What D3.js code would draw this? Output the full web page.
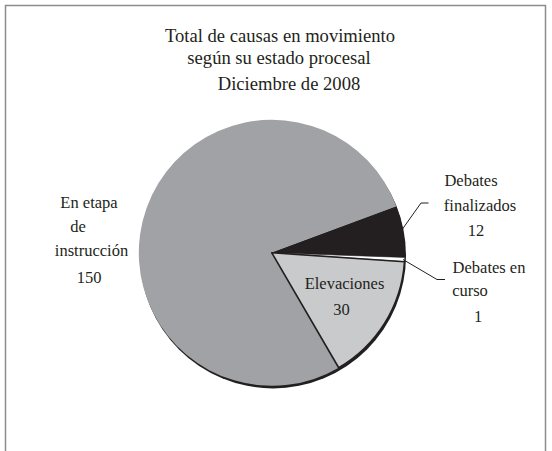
<!DOCTYPE html>
<html>
<head>
<meta charset="utf-8">
<script src="https://cdn.jsdelivr.net/npm/d3@7"></script>
<style>
  html, body { margin: 0; padding: 0; background: #fff; }
  svg { display: block; }
</style>
</head>
<body>
<svg id="chart" width="552" height="451"></svg>
<script>
// ---- data ----
const categories = ["En etapa de instrucción", "Debates finalizados", "Debates en curso", "Elevaciones"];
const values = [150, 12, 1, 30];
const colors = ["#a1a2a6", "#231f20", "#ffffff", "#c9cacc"];
const titleLines = ["Total de causas en movimiento", "según su estado procesal", "Diciembre de 2008"];
const labelLines = [
  ["En etapa", "de", "instrucción", "150"],
  ["Debates", "finalizados", "12"],
  ["Debates en", "curso", "1"],
  ["Elevaciones", "30"]
];

const FONT = "Liberation Serif";
const TEXT_COLOR = "#231f20";
const svg = d3.select("#chart");

// frame
svg.append("path")
  .attr("d", "M5.5,451 L5.5,5.5 L545.5,5.5 L545.5,451")
  .attr("fill", "none").attr("stroke", "#8c8c8c").attr("stroke-width", 1.5);

// title
const titleY = [42, 64, 90];
const titleX = [280, 279, 289];
svg.append("g").selectAll("text").data(titleLines).join("text")
  .attr("x", (d, i) => titleX[i]).attr("y", (d, i) => titleY[i])
  .attr("text-anchor", "middle")
  .attr("font-family", FONT).attr("font-size", 18.6).attr("fill", TEXT_COLOR)
  .text(d => d);

// pie
const cx = 271.8, cy = 252.8, R = 133;
const start = 149.8 * Math.PI / 180;
const pie = d3.pie().sort(null).startAngle(start).endAngle(start + 2 * Math.PI);
const arcs = pie(values);
const arc = d3.arc().innerRadius(0).outerRadius(R);

const g = svg.append("g").attr("transform", `translate(${cx},${cy})`);
// shadow
g.append("circle").attr("cx", 1.2).attr("cy", 2.6).attr("r", R).attr("fill", "#231f20");

g.selectAll("path.slice").data(arcs).join("path")
  .attr("class", "slice")
  .attr("d", arc)
  .attr("fill", (d, i) => colors[i])
  .attr("stroke", (d, i) => (i === 3 || i === 2) ? "#231f20" : "none")
  .attr("stroke-width", (d, i) => i === 3 ? 1.6 : 0.6)
  .attr("stroke-linejoin", "round");

// leader lines
const leaders = [
  [[402.5, 229], [421, 203], [428.5, 203]],
  [[403, 259.5], [437, 279.5], [445, 279.5]]
];
svg.append("g").selectAll("path").data(leaders).join("path")
  .attr("d", d => d3.line()(d))
  .attr("fill", "none").attr("stroke", "#231f20").attr("stroke-width", 1);

// labels
const labelPos = [
  { x: [89, 78, 91.5, 89], y: [208, 232, 256, 283] },
  { x: [471, 480, 476], y: [186, 211, 236] },
  { x: [489, 470, 478], y: [273, 296, 322] },
  { x: [344.5, 341.5], y: [289, 315] }
];
labelLines.forEach((lines, k) => {
  svg.append("g").selectAll("text").data(lines).join("text")
    .attr("x", (d, i) => labelPos[k].x[i])
    .attr("y", (d, i) => labelPos[k].y[i])
    .attr("text-anchor", "middle")
    .attr("font-family", FONT).attr("font-size", 16.5).attr("fill", TEXT_COLOR)
    .text(d => d);
});
</script>
</body>
</html>
